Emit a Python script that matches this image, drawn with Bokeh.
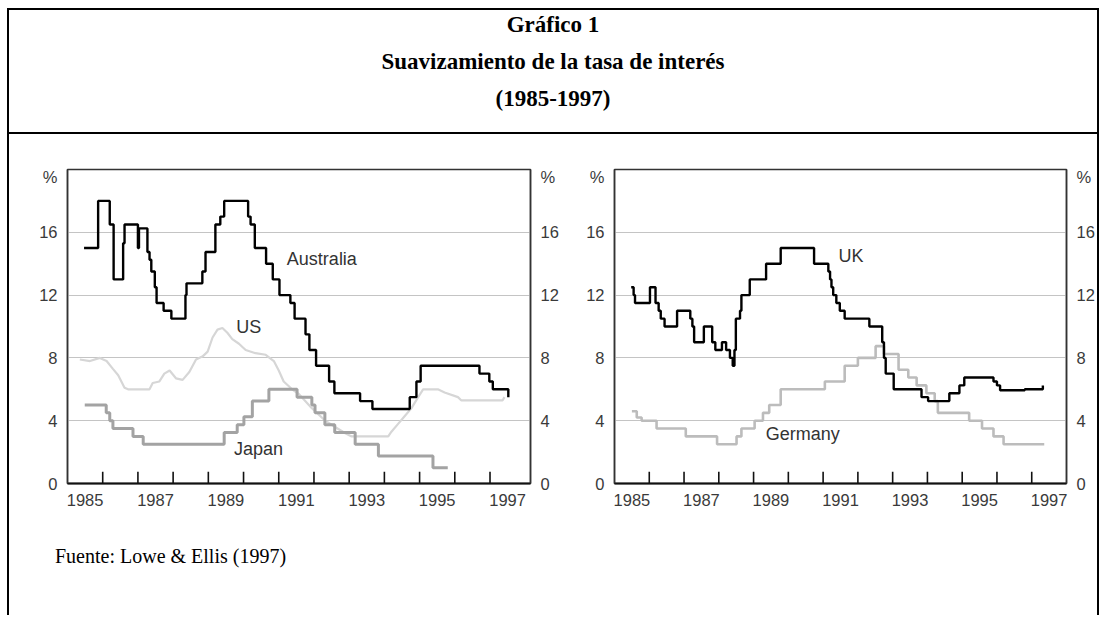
from bokeh.plotting import figure
from bokeh.models import (Div, FixedTicker, LinearAxis, Range1d, Label,
                          CustomJSTickFormatter)
from bokeh.layouts import column, row
from bokeh.embed import file_html
from bokeh.resources import INLINE

# ---------------- data ----------------
# Australia: step changes (start year, rate); last entry is the end point
aus_year = [1985.47, 1985.87, 1986.20, 1986.31, 1986.58, 1986.62, 1987.00, 1987.03,
            1987.27, 1987.33, 1987.38, 1987.48, 1987.53, 1987.73, 1987.95, 1988.35,
            1988.38, 1988.83, 1988.92, 1989.20, 1989.34, 1989.45, 1990.13, 1990.20,
            1990.32, 1990.64, 1990.83, 1991.02, 1991.33, 1991.45, 1991.76, 1991.87,
            1992.06, 1992.43, 1992.58, 1993.31, 1993.66, 1994.72, 1994.91, 1995.03,
            1996.70, 1996.98, 1997.08, 1997.52]
aus_rate = [15.0, 18.0, 16.5, 13.0, 15.3, 16.5, 15.0, 16.25,
            14.75, 14.25, 13.5, 12.5, 11.5, 11.0, 10.5, 12.0,
            12.75, 13.5, 14.75, 16.5, 17.0, 18.0, 17.0, 16.5,
            15.0, 14.0, 13.0, 12.0, 11.5, 10.5, 9.5, 8.5,
            7.5, 6.5, 5.75, 5.25, 4.75, 5.5, 6.5, 7.5,
            7.0, 6.5, 6.0, 5.5]

# Japan
jpn_year = [1985.49, 1986.10, 1986.20, 1986.29, 1986.86, 1987.15, 1989.45, 1989.82,
            1990.01, 1990.25, 1990.72, 1991.52, 1991.94, 1992.03, 1992.31, 1992.59,
            1993.17, 1993.83, 1995.38, 1995.80]
jpn_rate = [5.0, 4.5, 4.0, 3.5, 3.0, 2.5, 3.25, 3.75,
            4.25, 5.25, 6.0, 5.5, 5.0, 4.5, 3.75, 3.25,
            2.5, 1.75, 1.0, 1.0]

# United States (monthly line)
us_year = [1985.35, 1985.64, 1985.92, 1986.11, 1986.29, 1986.44, 1986.62, 1986.72,
           1987.33, 1987.42, 1987.61, 1987.75, 1987.90, 1988.08, 1988.27, 1988.46,
           1988.65, 1988.84, 1988.98, 1989.12, 1989.26, 1989.40, 1989.54, 1989.68,
           1989.87, 1990.06, 1990.34, 1990.63, 1990.86, 1991.00, 1991.14, 1991.38,
           1991.57, 1991.94, 1992.32, 1992.60, 1992.89, 1993.07, 1994.11, 1994.20,
           1994.39, 1994.58, 1994.77, 1994.96, 1995.10, 1995.52, 1995.71, 1996.09,
           1996.18, 1997.36, 1997.41]
us_rate = [7.9, 7.8, 8.0, 7.8, 7.3, 6.9, 6.1, 6.0,
           6.0, 6.4, 6.5, 7.0, 7.2, 6.7, 6.6, 7.1,
           7.9, 8.1, 8.4, 9.3, 9.8, 9.9, 9.6, 9.2,
           8.9, 8.5, 8.3, 8.2, 7.8, 7.2, 6.5, 6.0,
           5.7, 4.8, 4.0, 3.6, 3.2, 3.0, 3.0, 3.3,
           3.8, 4.3, 4.8, 5.5, 6.0, 6.0, 5.8, 5.5,
           5.3, 5.3, 5.5]

# United Kingdom
uk_year = [1985.48, 1985.55, 1985.59, 1986.02, 1986.18, 1986.27, 1986.33, 1986.44,
           1986.80, 1987.18, 1987.24, 1987.29, 1987.57, 1987.81, 1987.90, 1988.09,
           1988.21, 1988.32, 1988.40, 1988.45, 1988.49, 1988.61, 1988.65, 1988.89,
           1989.36, 1989.78, 1990.74, 1991.15, 1991.20, 1991.24, 1991.29, 1991.38,
           1991.48, 1991.62, 1992.33, 1992.70, 1992.75, 1992.80, 1993.03, 1993.83,
           1994.02, 1994.63, 1994.92, 1995.06, 1995.90, 1996.00, 1996.09, 1996.80,
           1997.32]
uk_rate = [12.5, 12.0, 11.5, 12.5, 11.5, 11.0, 10.5, 10.0,
           11.0, 10.5, 10.0, 9.0, 10.0, 9.0, 8.5, 9.0,
           8.5, 8.0, 7.5, 8.5, 10.5, 11.0, 12.0, 13.0,
           14.0, 15.0, 14.0, 13.5, 13.0, 12.5, 12.0, 11.5,
           11.0, 10.5, 10.0, 9.0, 8.0, 7.0, 6.0, 5.5,
           5.25, 5.75, 6.25, 6.75, 6.5, 6.25, 5.94, 6.0,
           6.25]

# Germany
deu_year = [1985.50, 1985.64, 1985.78, 1986.21, 1987.05, 1987.95, 1988.51, 1988.65,
            1989.03, 1989.27, 1989.45, 1989.78, 1991.05, 1991.62, 1992.00, 1992.51,
            1992.75, 1993.17, 1993.45, 1993.69, 1993.97, 1994.21, 1994.30, 1995.20,
            1995.57, 1995.90, 1996.19, 1997.36]
deu_rate = [4.6, 4.2, 4.0, 3.5, 3.0, 2.5, 3.0, 3.5,
            4.0, 4.5, 5.0, 6.0, 6.5, 7.5, 8.0, 8.75,
            8.25, 7.25, 6.75, 6.25, 5.75, 5.25, 4.5, 4.0,
            3.5, 3.0, 2.5, 2.5]

year_labels = [1985, 1987, 1989, 1991, 1993, 1995, 1997]
year_ticks = list(range(1986, 1998))
y_ticks = [0, 4, 8, 12, 16]

SANS = "Liberation Sans"
TICK_COLOR = "#3a3a3a"
TICK_SIZE = "16.5px"
LABEL_SIZE = "18px"


def make_panel(width, mb_left, mb_right, x_end):
    p = figure(width=width, height=381, x_range=Range1d(1985, x_end),
               y_range=Range1d(0, 20), output_backend="svg",
               toolbar_location=None, min_border_left=mb_left,
               min_border_right=mb_right, min_border_top=35,
               min_border_bottom=32)
    p.background_fill_color = "white"
    p.border_fill_color = "white"
    p.outline_line_color = "#333333"
    p.outline_line_width = 1.5
    p.xgrid.visible = False
    p.ygrid.ticker = FixedTicker(ticks=y_ticks[1:])
    p.ygrid.grid_line_color = "#c4c4c4"
    p.ygrid.grid_line_width = 1.2

    # x axis: labels at mid-year, tick marks drawn inside at year starts
    xa = p.xaxis[0]
    xa.ticker = FixedTicker(ticks=[y + 0.5 for y in year_labels])
    xa.formatter = CustomJSTickFormatter(code="return Math.floor(tick).toString();")
    xa.major_tick_line_color = None
    xa.minor_tick_line_color = None
    xa.axis_line_color = "#111111"
    xa.axis_line_width = 1.8
    xa.major_label_standoff = 4
    xa.major_label_text_font = SANS
    xa.major_label_text_font_size = TICK_SIZE
    xa.major_label_text_color = TICK_COLOR

    yticks = FixedTicker(ticks=y_ticks + [19.55])
    yfmt = CustomJSTickFormatter(code="return tick > 18 ? '%' : tick.toString();")
    ya = p.yaxis[0]
    ya.ticker = yticks
    ya.formatter = yfmt
    right = LinearAxis(ticker=yticks, formatter=yfmt)
    p.add_layout(right, "right")
    for ax in (ya, right):
        ax.major_tick_line_color = None
        ax.minor_tick_line_color = None
        ax.axis_line_color = "#333333"
        ax.axis_line_width = 1.5
        ax.major_label_standoff = 4
        ax.major_label_text_font = SANS
        ax.major_label_text_font_size = TICK_SIZE
        ax.major_label_text_color = TICK_COLOR

    p.segment(x0=year_ticks, y0=[0] * len(year_ticks), x1=year_ticks,
              y1=[0.75] * len(year_ticks), line_color="#111111", line_width=1.6)
    return p


# ---------------- left panel ----------------
p1 = make_panel(552, 58, 28, 1998.15)
p1.line(us_year, us_rate, line_color="#d6d6d6", line_width=2.2)
p1.step(jpn_year, jpn_rate, mode="after", line_color="#a3a3a3", line_width=3)
p1.step(aus_year, aus_rate, mode="after", line_color="#000000", line_width=2.4)
for txt, x, y in [("Australia", 1991.23, 14.3), ("US", 1989.79, 10.0),
                  ("Japan", 1989.73, 2.2)]:
    p1.add_layout(Label(x=x, y=y, text=txt, text_baseline="middle",
                        text_font=SANS, text_font_size=LABEL_SIZE,
                        text_color="#333333"))

# ---------------- right panel ----------------
p2 = make_panel(536, 53, 24, 1998.0)
p2.step(deu_year, deu_rate, mode="after", line_color="#bcbcbc", line_width=2.6)
p2.step(uk_year, uk_rate, mode="after", line_color="#000000", line_width=2.4)
for txt, x, y in [("UK", 1991.44, 14.5), ("Germany", 1989.35, 3.15)]:
    p2.add_layout(Label(x=x, y=y, text=txt, text_baseline="middle",
                        text_font=SANS, text_font_size=LABEL_SIZE,
                        text_color="#333333"))

# ---------------- frame, title, source ----------------
title = Div(
    text=("<div style=\"font-family:'Liberation Serif',serif;font-weight:bold;"
          "font-size:23px;text-align:center;line-height:37px;margin-top:-4px;"
          "width:1088px;color:#000\">Gráfico 1<br>Suavizamiento de la tasa de interés"
          "<br>(1985-1997)</div>"),
    width=1088, height=124,
    styles={"border-bottom": "2px solid black", "margin": "0"})

source = Div(
    text=("<div style=\"font-family:'Liberation Serif',serif;font-size:20px;"
          "padding-left:46px;padding-top:27px;color:#000\">Fuente: Lowe &amp; Ellis (1997)</div>"),
    width=1088, height=100, styles={"margin": "0"})

layout = column(title, row(p1, p2), source, margin=(8, 0, 0, 7),
                styles={"border-left": "2px solid black", "border-right": "2px solid black",
                        "border-top": "2px solid black"})

open("out.html", "w").write(file_html(layout, INLINE))
